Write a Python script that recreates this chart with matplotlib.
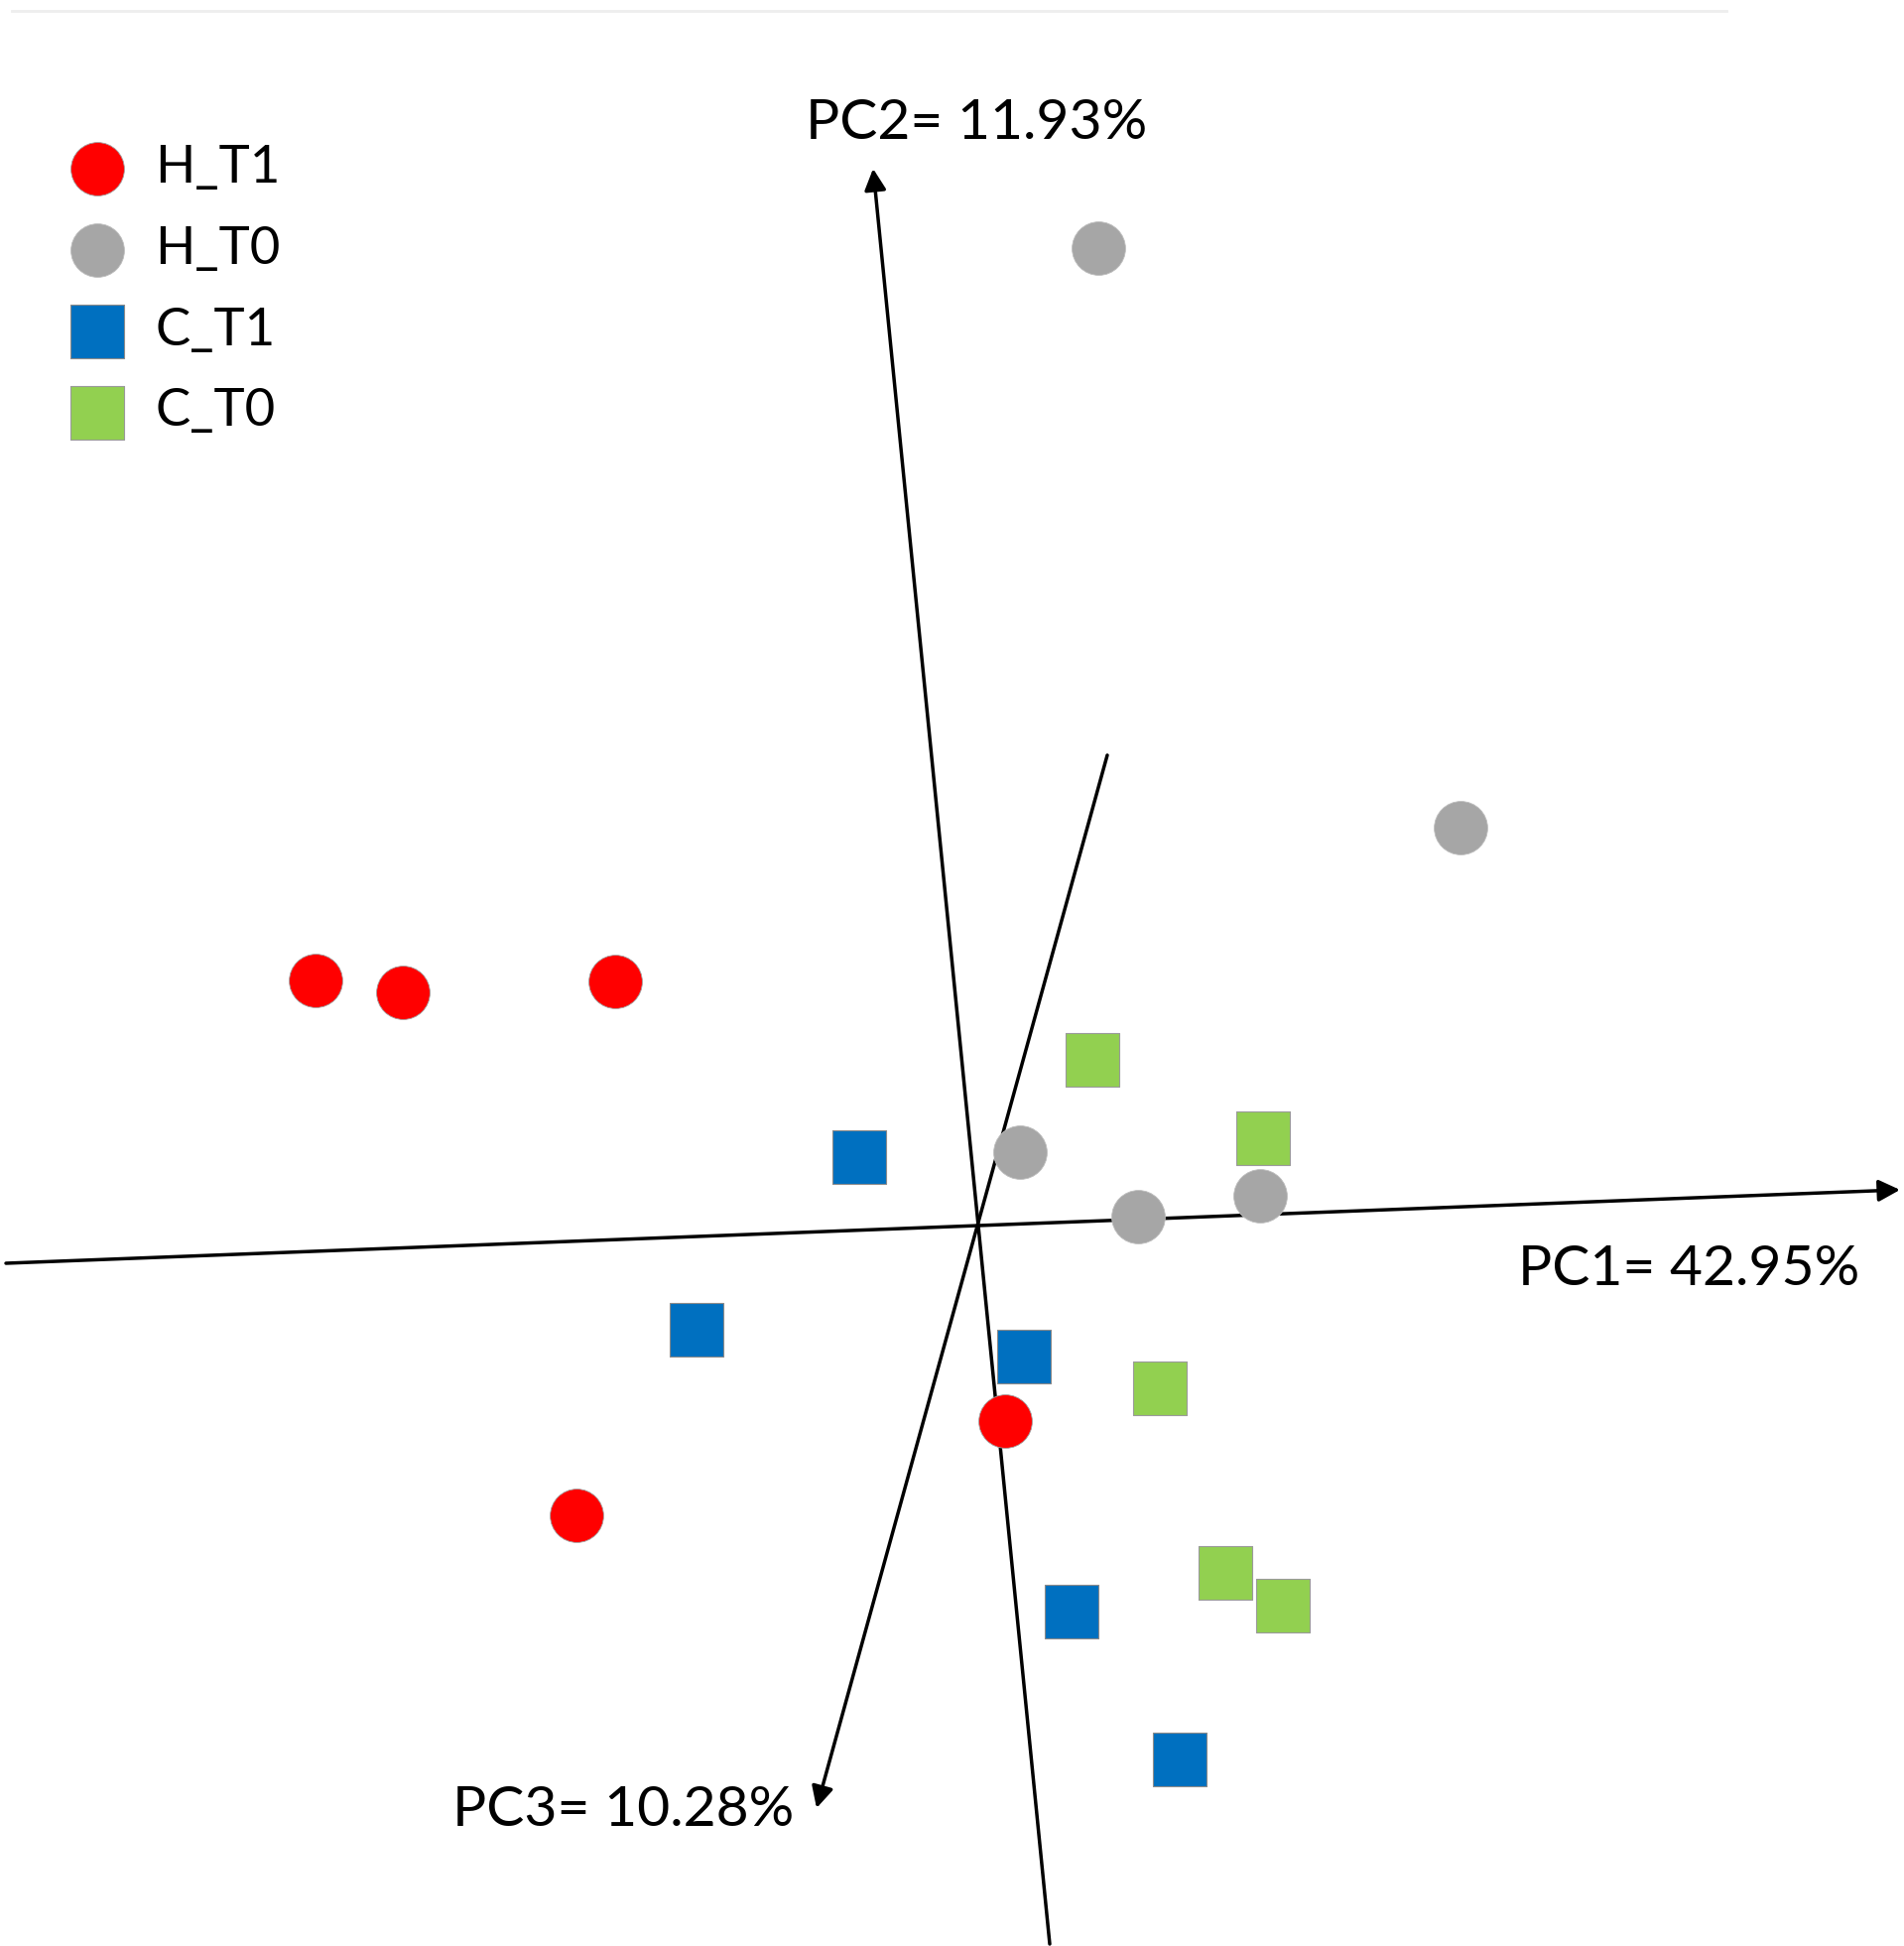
import matplotlib
matplotlib.use("Agg")
import matplotlib.pyplot as plt

plt.rcParams['font.family'] = ['Lato', 'DejaVu Sans']

# projected PCA scores (screen plane, origin at the axes crossing)
groups = ['H_T1', 'H_T0', 'C_T1', 'C_T0']
h_t1_x = [-6.67, -5.79, -3.65, 0.28, -4.04]
h_t1_y = [2.47, 2.35, 2.46, -1.97, -2.92]
h_t0_x = [1.22, 4.87, 0.43, 1.62, 2.85]
h_t0_y = [9.85, 4.01, 0.74, 0.09, 0.30]
c_t1_x = [-1.19, -2.83, 0.47, 0.95, 2.04]
c_t1_y = [0.69, -1.05, -1.32, -3.89, -5.38]
c_t0_x = [1.16, 2.88, 1.84, 2.50, 3.08]
c_t0_y = [1.67, 0.88, -1.64, -3.50, -3.83]
axis_labels = ['PC1= 42.95%', 'PC2= 11.93%', 'PC3= 10.28%']

fig = plt.figure(figsize=(19.19, 19.61), dpi=100)
ax = fig.add_axes([0, 0, 1, 1])
ax.set_xlim(-9.85, 9.34)
ax.set_ylim(-7.26, 12.35)
ax.axis('off')

# faint line along the top
ax.plot([-9.73, 7.55], [12.24, 12.24], color='#eeeeee', lw=2, zorder=0)

arrow = dict(arrowstyle='-|>,head_length=0.65,head_width=0.33', color='black',
             lw=2.5, shrinkA=0, shrinkB=0, mutation_scale=20)
# PC1, PC2, PC3 axes (tail -> head)
ax.annotate('', xy=(9.30, 0.36), xytext=(-9.79, -0.38), arrowprops=arrow, zorder=1)
ax.annotate('', xy=(-1.05, 10.65), xytext=(0.73, -7.24), arrowprops=arrow, zorder=1)
ax.annotate('', xy=(-1.62, -5.87), xytext=(1.31, 4.74), arrowprops=arrow, zorder=1)

ax.text(7.17, -0.60, axis_labels[0], fontsize=41, ha='center', va='baseline')
ax.text(-0.01, 10.95, axis_labels[1], fontsize=41, ha='center', va='baseline')
ax.text(-3.57, -6.05, axis_labels[2], fontsize=41, ha='center', va='baseline')

ax.scatter(h_t1_x, h_t1_y, s=1500, marker='o', c='#ff0000', edgecolors='#a0a0a0',
           linewidths=0.6, label=groups[0], zorder=3)
ax.scatter(h_t0_x, h_t0_y, s=1500, marker='o', c='#a6a6a6', edgecolors='#bdbdbd',
           linewidths=0.6, label=groups[1], zorder=3)
ax.scatter(c_t1_x, c_t1_y, s=1520, marker='s', c='#0070c0', edgecolors='#8a8a8a',
           linewidths=0.8, label=groups[2], zorder=3)
ax.scatter(c_t0_x, c_t0_y, s=1520, marker='s', c='#92d050', edgecolors='#9a9a9a',
           linewidths=0.8, label=groups[3], zorder=3)

ax.legend(loc='upper left', bbox_to_anchor=(72 / 1919, 1 - 146 / 1961), frameon=False,
          fontsize=38, handlelength=1.0, handletextpad=0.6, labelspacing=0.66,
          borderpad=0, borderaxespad=0, scatterpoints=1)

fig.savefig('out.png', dpi=100)
